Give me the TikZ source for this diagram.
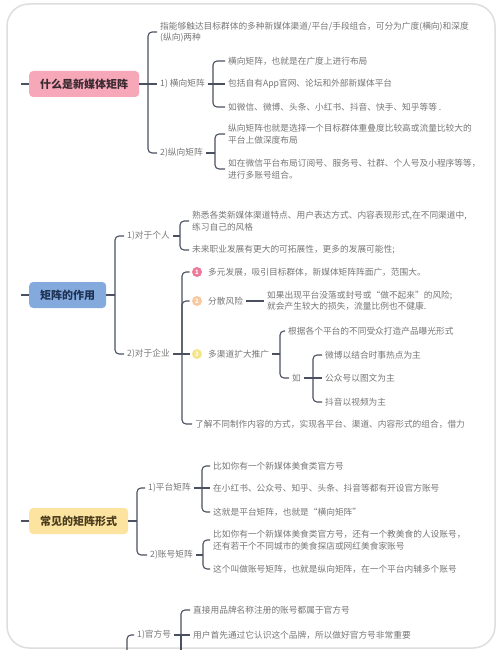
\documentclass[tikz,border=0pt]{standalone}
\usepackage{fontspec}
\setmainfont{Noto Sans CJK SC}
\definecolor{lineC}{HTML}{4B5060}
\definecolor{txtC}{HTML}{777777}
\definecolor{panelC}{HTML}{DEDEDE}
\definecolor{pinkC}{HTML}{F6A7B8}
\definecolor{pinkT}{HTML}{3A2A31}
\definecolor{blueC}{HTML}{84AADD}
\definecolor{blueT}{HTML}{1E3354}
\definecolor{yelC}{HTML}{FCE3A0}
\definecolor{yelT}{HTML}{4A3B1E}
\definecolor{bdgA}{HTML}{EE7A99}
\definecolor{bdgB}{HTML}{F8C9A0}
\definecolor{bdgC}{HTML}{F6E48A}
\begin{document}
\begin{tikzpicture}[x=1pt,y=-1pt,
  txt/.style={anchor=west,inner xsep=3pt,inner ysep=1pt,align=left,text=txtC,font=\fontsize{8.7}{11.5}\selectfont},
  root/.style={anchor=west,rounded corners=4pt,minimum height=26pt,inner xsep=4pt,align=center,font=\fontsize{11}{13}\selectfont\bfseries},
  conn/.style={draw=lineC,line width=1.1pt},
  brk/.style={conn,rounded corners=4pt},
  badge/.style={circle,minimum size=10pt,inner sep=0pt,outer sep=2.5pt,text=white,font=\fontsize{6}{6}\selectfont\bfseries},
  panel/.style={draw=panelC,line width=1.5pt,rounded corners=22pt}]
\useasboundingbox (0,0) rectangle (500,650);
\fill[white] (0,0) rectangle (500,650);
\draw[panel] (7,4) rectangle (495,648);

% ---------- panel 1 ----------
\node[root,fill=pinkC,text=pinkT,minimum width=110pt] (r1) at (29,84) {什么是新媒体矩阵};
\coordinate (s1) at (21,84);
\draw[conn] (s1) -- (r1.west);
\node[txt] (c11) at (157,32) {指能够触达目标群体的多种新媒体渠道/平台/手段组合，可分为广度(横向)和深度\\(纵向)两种};
\node[txt] (c12) at (157,84) {1) 横向矩阵};
\node[txt] (c13) at (157,153) {2)纵向矩阵};
\coordinate (b1) at (148,0);
\draw[conn] (r1.east) -- (r1.east -| b1);
\foreach \cc in {c11,c13} \draw[brk] (r1.east -| b1) |- (\cc.west);
\draw[conn] (r1.east -| b1) -- (c12.west);

\node[txt] (c121) at (225,61) {横向矩阵，也就是在广度上进行布局};
\node[txt] (c122) at (225,84) {包括自有App官网、论坛和外部新媒体平台};
\node[txt] (c123) at (225,107) {如微信、微博、头条、小红书、抖音、快手、知乎等等 .};
\coordinate (b11) at (213,0);
\draw[conn] (c12.east) -- (c12.east -| b11);
\foreach \cc in {c121,c123} \draw[brk] (c12.east -| b11) |- (\cc.west);
\draw[conn] (c12.east -| b11) -- (c122.west);

\node[txt] (c131) at (225,134) {纵向矩阵也就是选择一个目标群体重叠度比较高或流量比较大的\\平台上做深度布局};
\node[txt] (c132) at (225,169) {如在微信平台布局订阅号、服务号、社群、个人号及小程序等等，\\进行多账号组合。};
\coordinate (b12) at (215,0);
\draw[conn] (c13.east) -- (c13.east -| b12);
\foreach \cc in {c131,c132} \draw[brk] (c13.east -| b12) |- (\cc.west);

% ---------- panel 2 ----------
\node[root,fill=blueC,text=blueT,minimum width=77pt] (r2) at (29,295) {矩阵的作用};
\coordinate (s2) at (21,295);
\draw[conn] (s2) -- (r2.west);
\node[txt] (p1) at (124,236) {1)对于个人};
\node[txt] (p2) at (124,354) {2)对于企业};
\coordinate (b2) at (115,0);
\draw[conn] (r2.east) -- (r2.east -| b2);
\foreach \cc in {p1,p2} \draw[brk] (r2.east -| b2) |- (\cc.west);

\node[txt] (p11) at (189,221) {熟悉各类新媒体渠道特点、用户表达方式、内容表现形式,在不同渠道中,\\练习自己的风格};
\node[txt] (p12) at (189,250) {未来职业发展有更大的可拓展性，更多的发展可能性;};
\coordinate (b21) at (180,0);
\draw[conn] (p1.east) -- (p1.east -| b21);
\foreach \cc in {p11,p12} \draw[brk] (p1.east -| b21) |- (\cc.west);

\node[badge,fill=bdgA] (e1) at (197,272) {1};
\node[txt] (e1t) at (205,272) {多元发展，吸引目标群体，新媒体矩阵阵面广，范围大。};
\node[badge,fill=bdgB] (e2) at (197,301) {2};
\node[txt] (e2t) at (205,301) {分散风险};
\node[txt] (e2a) at (264,301) {如果出现平台没落或封号或“做不起来”的风险;\\就会产生较大的损失，流量比例也不健康.};
\draw[conn] (e2t.east) -- (e2a.west);
\node[badge,fill=bdgC] (e3) at (197,354) {3};
\node[txt] (e3t) at (205,354) {多渠道扩大推广};
\node[txt] (e4) at (192,424) {了解不同制作内容的方式，实现各平台、渠道、内容形式的组合，借力};
\coordinate (b22) at (182,0);
\draw[conn] (p2.east) -- (p2.east -| b22);
\foreach \cc in {e1,e2,e4} \draw[brk] (p2.east -| b22) |- (\cc.west);
\draw[conn] (p2.east -| b22) -- (e3.west);

\node[txt] (e31) at (285,331) {根据各个平台的不同受众打造产品曝光形式};
\node[txt] (e32) at (289,378) {如};
\coordinate (b23) at (280,0);
\draw[conn] (e3t.east) -- (e3t.east -| b23);
\foreach \cc in {e31,e32} \draw[brk] (e3t.east -| b23) |- (\cc.west);

\node[txt] (e321) at (322,355) {微博以结合时事热点为主};
\node[txt] (e322) at (322,378) {公众号以图文为主};
\node[txt] (e323) at (322,402) {抖音以视频为主};
\coordinate (b24) at (313,0);
\draw[conn] (e32.east) -- (e32.east -| b24);
\foreach \cc in {e321,e323} \draw[brk] (e32.east -| b24) |- (\cc.west);
\draw[conn] (e32.east -| b24) -- (e322.west);

% ---------- panel 3 ----------
\node[root,fill=yelC,text=yelT,minimum width=99pt] (r3) at (29,521) {常见的矩阵形式};
\coordinate (s3) at (21,521);
\draw[conn] (s3) -- (r3.west);
\node[txt] (q1) at (145,488) {1)平台矩阵};
\node[txt] (q2) at (147,555) {2)账号矩阵};
\coordinate (b3) at (137,0);
\draw[conn] (r3.east) -- (r3.east -| b3);
\foreach \cc in {q1,q2} \draw[brk] (r3.east -| b3) |- (\cc.west);

\node[txt] (q11) at (210,466) {比如你有一个新媒体美食类官方号};
\node[txt] (q12) at (210,488) {在小红书、公众号、知乎、头条、抖音等都有开设官方账号};
\node[txt] (q13) at (210,512) {这就是平台矩阵，也就是“横向矩阵”};
\coordinate (b31) at (202,0);
\draw[conn] (q1.east) -- (q1.east -| b31);
\foreach \cc in {q11,q13} \draw[brk] (q1.east -| b31) |- (\cc.west);
\draw[conn] (q1.east -| b31) -- (q12.west);

\node[txt] (q21) at (210,540) {比如你有一个新媒体美食类官方号，还有一个教美食的人设账号，\\还有若干个不同城市的美食探店或网红美食家账号};
\node[txt] (q22) at (210,569) {这个叫做账号矩阵，也就是纵向矩阵，在一个平台内辅多个账号};
\coordinate (b32) at (203,0);
\draw[conn] (q2.east) -- (q2.east -| b32);
\foreach \cc in {q21,q22} \draw[brk] (q2.east -| b32) |- (\cc.west);

% ---------- bottom (continues below) ----------
\coordinate (t0) at (127,665);
\node[txt] (t1) at (134,635) {1)官方号};
\draw[brk] (t0) |- (t1.west);
\node[txt] (t11) at (190,610) {直接用品牌名称注册的账号都属于官方号};
\node[txt] (t12) at (190,635) {用户首先通过它认识这个品牌，所以做好官方号非常重要};
\coordinate (b4) at (181,0);
\coordinate (t2) at (181,665);
\draw[conn] (t1.east) -- (t1.east -| b4);
\draw[brk] (t1.east -| b4) |- (t11.west);
\draw[conn] (t1.east -| b4) -- (t12.west);
\draw[conn] (t1.east -| b4) -- (t2);
\end{tikzpicture}
\end{document}
